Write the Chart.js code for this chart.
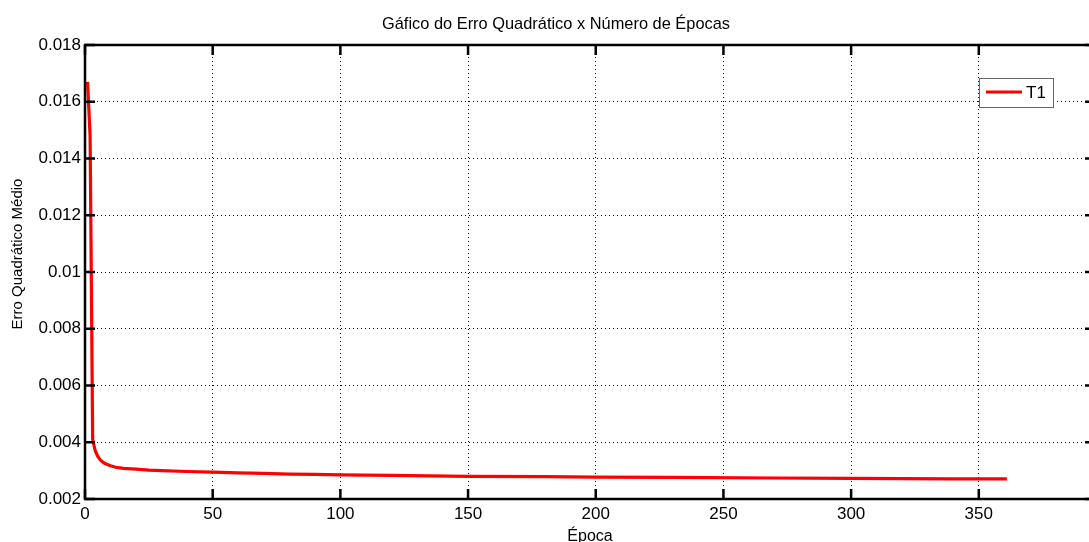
<!DOCTYPE html>
<html>
<head>
<meta charset="utf-8">
<script src="https://cdn.jsdelivr.net/npm/chart.js@4/dist/chart.umd.min.js"></script>
<style>
  html, body { margin: 0; padding: 0; background: #fff; overflow: hidden; }
  #wrap { width: 1089px; height: 542px; overflow: hidden; position: relative; }
</style>
</head>
<body>
<div id="wrap"><canvas id="grafico" width="1112" height="552"></canvas></div>
<script>
// dados
const epocas = [1, 2, 3, 4, 5, 6, 7, 8, 10, 12, 15, 20, 25, 30, 40, 50, 60, 70, 80, 90, 100, 120, 150, 180, 200, 230, 270, 300, 320, 340, 361];
const erroT1 = [0.0167, 0.0148, 0.0041, 0.0037, 0.0035, 0.00338, 0.0033, 0.00324, 0.00317, 0.00312, 0.00308, 0.00305, 0.00302, 0.003, 0.00297, 0.00295, 0.00292, 0.0029, 0.00288, 0.00287, 0.00285, 0.00283, 0.0028, 0.00279, 0.00277, 0.00276, 0.00274, 0.00273, 0.00272, 0.00271, 0.00271];
const xTicks = [0, 50, 100, 150, 200, 250, 300, 350];
const yTicks = [0.002, 0.004, 0.006, 0.008, 0.01, 0.012, 0.014, 0.016, 0.018];
const tituloY = 'Erro Quadrático Médio';

const fonte = "'Liberation Sans', Arial, sans-serif";

// caixa, ticks para dentro, legenda e rótulo do eixo y no estilo do MATLAB
const estiloMatlab = {
    id: 'estiloMatlab',
    afterDatasetsDraw(chart) {
        const { ctx, chartArea: a, scales } = chart;
        ctx.save();
        ctx.strokeStyle = '#000';
        ctx.lineWidth = 2.5;
        ctx.strokeRect(a.left, a.top, a.right - a.left, a.bottom - a.top);

        const tam = 10;
        ctx.beginPath();
        scales.x.ticks.forEach(t => {
            const px = scales.x.getPixelForValue(t.value);
            ctx.moveTo(px, a.bottom); ctx.lineTo(px, a.bottom - tam);
            ctx.moveTo(px, a.top); ctx.lineTo(px, a.top + tam);
        });
        scales.y.ticks.forEach(t => {
            const py = scales.y.getPixelForValue(t.value);
            ctx.moveTo(a.left, py); ctx.lineTo(a.left + tam, py);
            ctx.moveTo(a.right, py); ctx.lineTo(a.right - tam, py);
        });
        ctx.stroke();

        // legenda
        const ds = chart.data.datasets[0];
        const lx = a.right - 116, ly = a.top + 33, lw = 74, lh = 29;
        ctx.fillStyle = '#fff';
        ctx.fillRect(lx, ly, lw, lh);
        ctx.strokeStyle = '#666';
        ctx.lineWidth = 1;
        ctx.strokeRect(lx + 0.5, ly + 0.5, lw, lh);
        ctx.strokeStyle = ds.borderColor;
        ctx.lineWidth = 3;
        ctx.beginPath();
        ctx.moveTo(lx + 7, ly + 14); ctx.lineTo(lx + 43, ly + 14);
        ctx.stroke();
        ctx.fillStyle = '#000';
        ctx.font = '17px ' + fonte;
        ctx.textBaseline = 'middle';
        ctx.fillText(ds.label, lx + 47, ly + 15);

        // rótulo do eixo y
        ctx.translate(18, (a.top + a.bottom) / 2 - 18);
        ctx.rotate(-Math.PI / 2);
        ctx.font = '15px ' + fonte;
        ctx.textAlign = 'center';
        ctx.fillText(tituloY, 0, 0);
        ctx.restore();
    }
};

new Chart(document.getElementById('grafico'), {
    type: 'line',
    data: {
        datasets: [{
            label: 'T1',
            data: epocas.map((e, i) => ({ x: e, y: erroT1[i] })),
            borderColor: '#ff0000',
            borderWidth: 3.2,
            pointRadius: 0,
            tension: 0,
            fill: false
        }]
    },
    options: {
        responsive: false,
        animation: false,
        events: [],
        layout: { padding: { left: 17, right: 17, top: 0, bottom: 0 } },
        plugins: {
            legend: { display: false },
            tooltip: { enabled: false },
            title: {
                display: true,
                text: 'Gáfico do Erro Quadrático x Número de Épocas',
                color: '#000',
                font: { family: fonte, size: 16.4, weight: 'normal' },
                padding: { top: 15, bottom: 10.32 }
            }
        },
        scales: {
            x: {
                type: 'linear',
                min: 0,
                max: 395.5,
                afterBuildTicks: s => { s.ticks = xTicks.map(v => ({ value: v })); },
                afterFit: s => { s.height = 53; },
                ticks: { color: '#000', font: { family: fonte, size: 17 }, padding: 5, maxRotation: 0 },
                grid: { color: '#000', lineWidth: 1, drawTicks: false },
                border: { display: false, dash: [1, 3] },
                title: {
                    display: true,
                    text: 'Época',
                    color: '#000',
                    font: { family: fonte, size: 16 },
                    padding: { top: 0, bottom: 5.4 }
                }
            },
            y: {
                min: 0.002,
                max: 0.018,
                afterBuildTicks: s => { s.ticks = yTicks.map(v => ({ value: v })); },
                afterFit: s => { s.width = 68; },
                ticks: {
                    color: '#000',
                    font: { family: fonte, size: 17 },
                    padding: 4,
                    callback: v => String(+v.toFixed(3))
                },
                grid: { color: '#000', lineWidth: 1, drawTicks: false },
                border: { display: false, dash: [1, 3] }
            }
        }
    },
    plugins: [estiloMatlab]
});
</script>
</body>
</html>
